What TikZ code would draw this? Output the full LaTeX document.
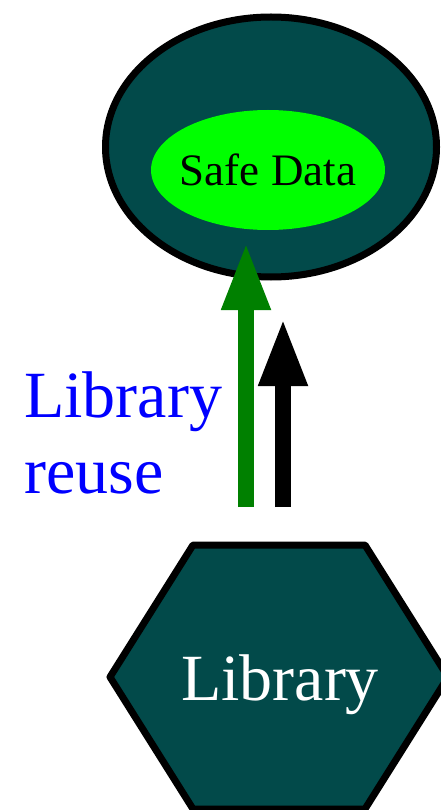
\documentclass[tikz,border=0pt]{standalone}
\usepackage{fontspec}
\setmainfont{Liberation Serif}
\usepackage{tikz}
\usetikzlibrary{shapes.geometric, arrows.meta, positioning, calc}
\definecolor{deepteal}{RGB}{2, 74, 74}
\definecolor{safegreen}{RGB}{0, 255, 0}
\definecolor{reusegreen}{RGB}{0, 128, 0}

\begin{document}
\begin{tikzpicture}[x=1pt, y=-1pt,
		vault/.style={ellipse, draw=black, line width=7pt, fill=deepteal,
			minimum width=331pt, minimum height=260pt},
		safebox/.style={ellipse, fill=safegreen, inner sep=0pt,
			minimum width=234pt, minimum height=120pt,
			font=\fontsize{45}{54}\selectfont},
		bigtext/.style={font=\fontsize{66}{76}\selectfont, inner sep=0pt},
		flow/.style={-{Triangle[length=68pt, width=45pt]}, line width=16pt}
		]
		\useasboundingbox (0, 0) rectangle (441, 810);
		
		\node[vault] (data) at (271, 147) {};
		\node[safebox] (safe) at (268, 170) {\makebox[0pt]{Safe Data}};
		
		% the library hexagon
		\coordinate (hex) at (279, 677);
		\draw[line width=7pt, line join=round, fill=deepteal]
		($(hex)+(-86,-132)$) -- ($(hex)+(86,-132)$) -- ($(hex)+(169,0)$)
		-- ($(hex)+(86,132)$) -- ($(hex)+(-86,132)$) -- ($(hex)+(-169,0)$)
		-- cycle;
		\node[bigtext, text=white, anchor=base] (lib) at (280, 700) {Library};
		
		\node[bigtext, text=blue, align=left, anchor=base west]
		(reuse) at (24, 493) {Library\\reuse};
		
		\coordinate (gfoot) at (246, 507);
		\coordinate (gtip) at (246, 242);
		\coordinate (bfoot) at (283, 507);
		\coordinate (btip) at (283, 318);
		\draw[flow, reusegreen] (gfoot) -- (gtip);
		\draw[flow, black] (bfoot) -- (btip);
	\end{tikzpicture}
\end{document}
